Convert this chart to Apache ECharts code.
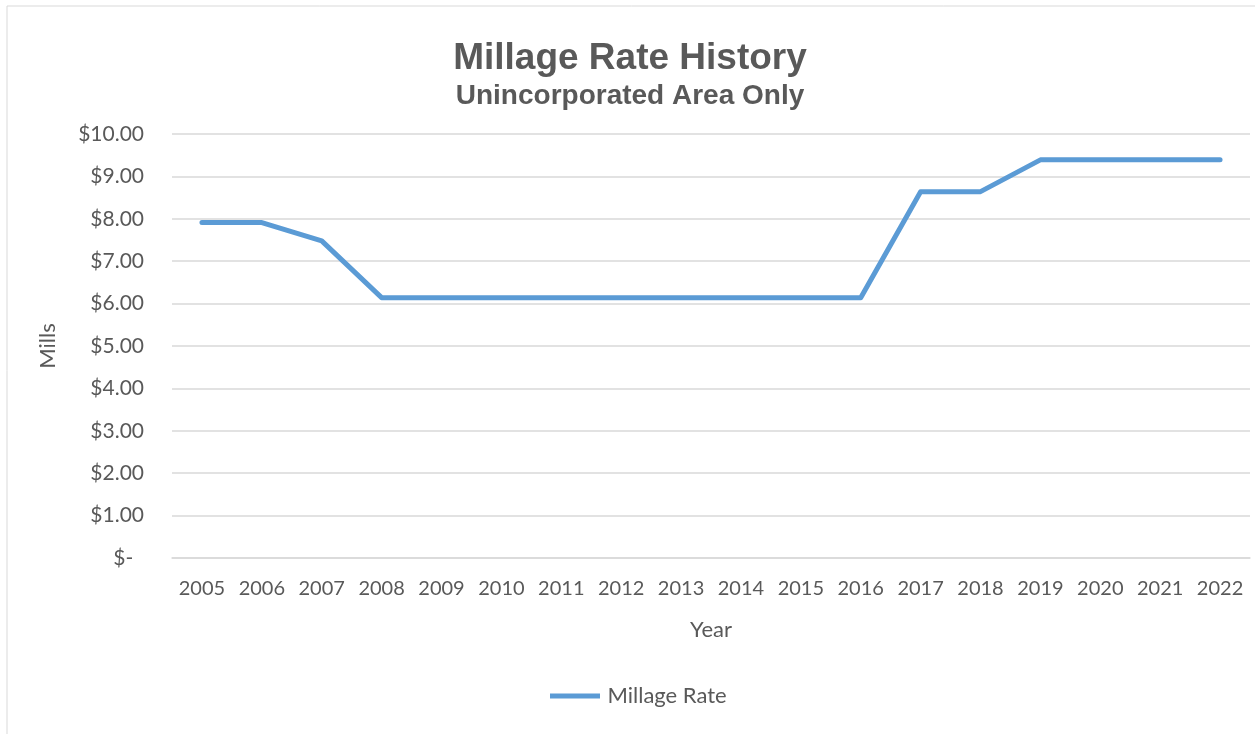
<!DOCTYPE html>
<html>
<head>
<meta charset="utf-8">
<script src="https://cdn.jsdelivr.net/npm/echarts@6/dist/echarts.min.js"></script>
<style>
  html, body { margin: 0; padding: 0; background: #fff; }
  #chart { width: 1255px; height: 734px; }
</style>
</head>
<body>
<div id="chart"></div>
<script>
  var years = ['2005', '2006', '2007', '2008', '2009', '2010', '2011', '2012', '2013',
               '2014', '2015', '2016', '2017', '2018', '2019', '2020', '2021', '2022'];
  var millageRate = [7.91, 7.91, 7.48, 6.14, 6.14, 6.14, 6.14, 6.14, 6.14,
                     6.14, 6.14, 6.14, 8.64, 8.64, 9.39, 9.39, 9.39, 9.39];

  var chart = echarts.init(document.getElementById('chart'));
  var font = 'Lato, "Open Sans", sans-serif';
  chart.setOption({
    animation: false,
    graphic: [{
      type: 'rect',
      shape: { x: 7, y: 6, width: 1260, height: 740 },
      style: { fill: 'none', stroke: '#d9d9d9', lineWidth: 1 }
    }],
    title: {
      text: 'Millage Rate History',
      subtext: 'Unincorporated Area Only',
      left: 625,
      textAlign: 'center',
      top: 35,
      itemGap: 5,
      textStyle: { color: '#595959', fontSize: 37, fontWeight: 'bold', fontFamily: 'Liberation Sans, Arial' },
      subtextStyle: { color: '#595959', fontSize: 28, fontWeight: 'bold', fontFamily: 'Liberation Sans, Arial' }
    },
    legend: {
      bottom: 22,
      left: 545,
      icon: 'path://M0,0 L10,0 L10,1 L0,1 Z',
      itemWidth: 55,
      itemHeight: 5,
      itemGap: 4,
      textStyle: { color: '#595959', fontSize: 22, fontFamily: font },
      data: ['Millage Rate']
    },
    grid: { left: 172, right: 5, top: 134, bottom: 176 },
    xAxis: {
      type: 'category',
      data: years,
      name: 'Year',
      nameLocation: 'middle',
      nameGap: 61,
      nameTextStyle: { color: '#595959', fontSize: 22, fontFamily: font },
      axisLine: { lineStyle: { color: '#d9d9d9', width: 1.5 } },
      axisTick: { show: false },
      axisLabel: { color: '#595959', fontSize: 20, margin: 21, interval: 0, fontFamily: font }
    },
    yAxis: {
      type: 'value',
      min: 0,
      max: 10,
      interval: 1,
      name: 'Mills',
      nameLocation: 'middle',
      nameGap: 113,
      nameTextStyle: { color: '#595959', fontSize: 22, fontFamily: font },
      axisLine: { show: false },
      axisTick: { show: false },
      splitLine: { lineStyle: { color: '#d9d9d9', width: 1.5 } },
      axisLabel: {
        color: '#595959', fontSize: 21, margin: 28, fontFamily: font,
        formatter: function (v) { return v === 0 ? '$-  ' : '$' + v.toFixed(2); }
      }
    },
    series: [{
      name: 'Millage Rate',
      type: 'line',
      data: millageRate,
      symbol: 'none',
      lineStyle: { color: '#5b9bd5', width: 5, cap: 'round', join: 'round' },
      itemStyle: { color: '#5b9bd5' }
    }]
  });
</script>
</body>
</html>
